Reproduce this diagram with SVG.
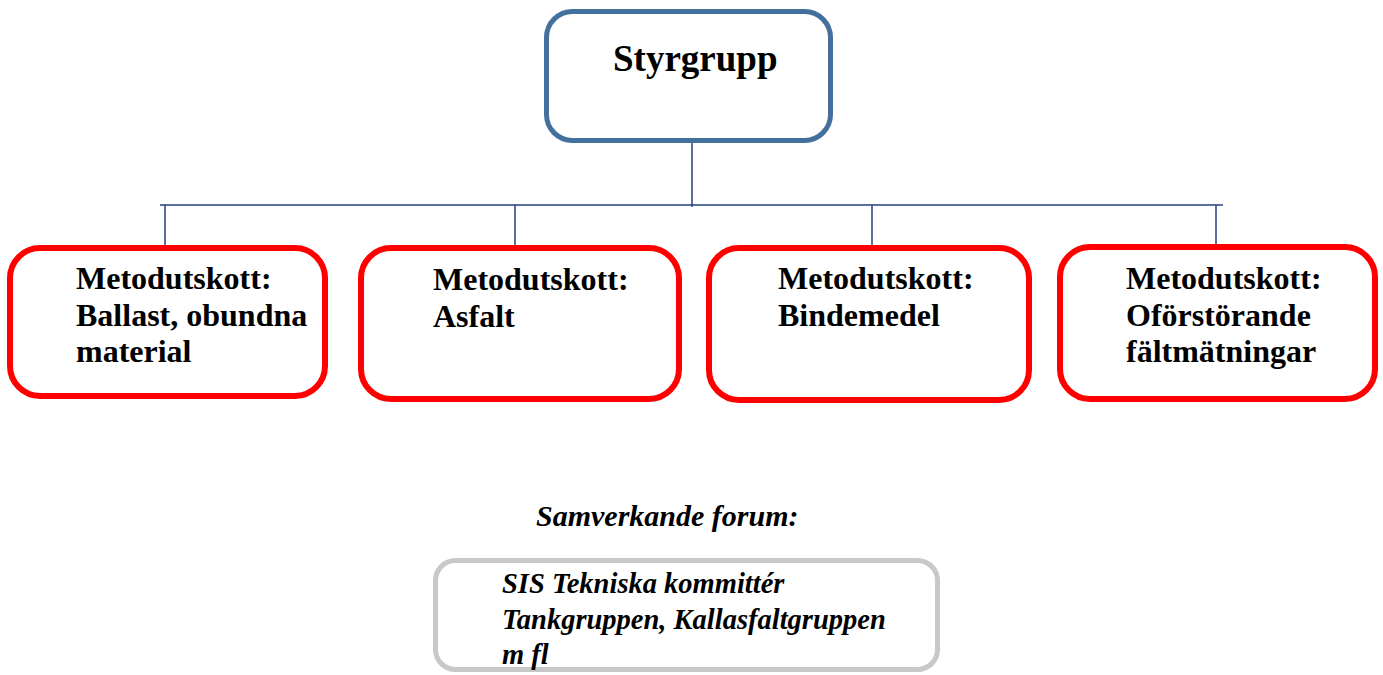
<svg xmlns="http://www.w3.org/2000/svg" width="1383" height="675" viewBox="0 0 1383 675">
<style>
.bg{fill:#ffffff}
.top{fill:#ffffff;stroke:#44709e;stroke-width:5}
.sub{fill:#ffffff;stroke:#ff0000;stroke-width:6}
.forum{fill:#ffffff;stroke:#c8c8c8;stroke-width:5}
.conn{stroke:#243f7e;stroke-width:1.5;fill:none}
.tb{font-family:"Liberation Serif","Times New Roman",serif;font-weight:bold;fill:#000}
.ti{font-family:"Liberation Serif","Times New Roman",serif;font-weight:bold;font-style:italic;fill:#000}
</style>
<rect class="bg" x="0" y="0" width="1383" height="675"/>
<g id="connectors">
<line class="conn" x1="692" y1="143" x2="692" y2="207"/>
<line class="conn" x1="160" y1="205" x2="1223" y2="205"/>
<line class="conn" x1="165" y1="205" x2="165" y2="247"/>
<line class="conn" x1="515" y1="205" x2="515" y2="247"/>
<line class="conn" x1="872" y1="205" x2="872" y2="247"/>
<line class="conn" x1="1216" y1="205" x2="1216" y2="247"/>
</g>
<g id="styrgrupp">
<rect class="top" x="546.5" y="11.5" width="284" height="129" rx="26"/>
<text class="tb" x="613" y="71" font-size="37">Styrgrupp</text>
</g>
<g id="ballast">
<rect class="sub" x="10" y="248" width="315" height="148" rx="30"/>
<text class="tb" font-size="32"><tspan x="76" y="289">Metodutskott:</tspan><tspan x="76" y="325.5">Ballast, obundna</tspan><tspan x="76" y="362">material</tspan></text>
</g>
<g id="asfalt">
<rect class="sub" x="361" y="248" width="318" height="151" rx="30"/>
<text class="tb" font-size="32"><tspan x="433" y="290">Metodutskott:</tspan><tspan x="433" y="327">Asfalt</tspan></text>
</g>
<g id="bindemedel">
<rect class="sub" x="709" y="248" width="320" height="152" rx="30"/>
<text class="tb" font-size="32"><tspan x="778" y="289">Metodutskott:</tspan><tspan x="778" y="326">Bindemedel</tspan></text>
</g>
<g id="oforstorande">
<rect class="sub" x="1060" y="247" width="315" height="152" rx="30"/>
<text class="tb" font-size="32"><tspan x="1126" y="289">Metodutskott:</tspan><tspan x="1126" y="325.5">Oförstörande</tspan><tspan x="1126" y="362">fältmätningar</tspan></text>
</g>
<text class="ti" x="536" y="526" font-size="30">Samverkande forum:</text>
<g id="forum">
<rect class="forum" x="435.5" y="560.5" width="502" height="109" rx="20"/>
<text class="ti" font-size="28.5"><tspan x="502" y="593">SIS Tekniska kommittér</tspan><tspan x="502" y="629">Tankgruppen, Kallasfaltgruppen</tspan><tspan x="502" y="664">m fl</tspan></text>
</g>
</svg>
